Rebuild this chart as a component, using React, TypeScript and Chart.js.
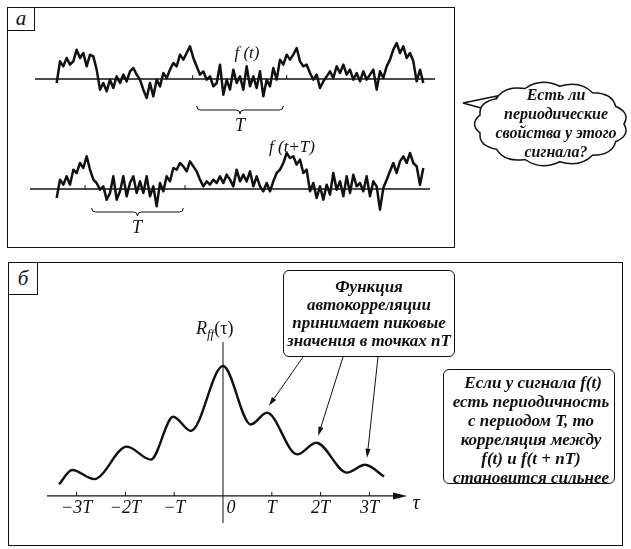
import React, { useEffect, useRef } from "react";
import { Chart, registerables } from "chart.js";
Chart.register(...registerables);

// ---------- data ----------
// panel a: f(t), samples equally spaced in time (sample index)
const topSignal = [
  -12, 53, 38, 63, 43, 53, 88, 63, 78, 38,
  73, 68, 28, -32, -12, -37, -2, -27, 8, -12,
  13, -7, 23, 33, 13, -2, -32, -57, -12, -52,
  -2, -22, 18, 3, 28, 48, 38, 73, 58, 78,
  98, 63, 38, 13, 23, -2, 8, -22, -12, 43,
  -47, -2, -32, 28, -12, 8, -32, 38, -22, 8,
  -27, 23, -52, -2, -22, 33, -2, 58, 43, 73,
  58, 73, 93, 53, 38, 43, 18, -2, 13, -27,
  -7, 8, 23, 3, 38, 18, 43, 13, 28, -2,
  18, -7, 23, -2, 13, 28, -32, 23, 3, 38,
  58, 88, 108, 78, 98, 63, 78, 53, -7, 28,
  -12,
];
// panel a: f(t+T)
const shiftedSignal = [
  -27, 28, 13, 38, 13, 58, 48, 78, 63, 98,
  58, 28, 18, -2, 8, -32, -12, 38, -32, -7,
  38, -22, 18, 38, -12, 23, -12, 38, -22, 8,
  -52, 18, -7, 38, 23, 63, 58, 78, 68, 53,
  83, 68, 53, 28, 8, 23, 13, 28, 18, 38,
  18, 43, 28, 8, 58, 23, 43, 23, 53, 8,
  38, 8, -7, 18, -7, 23, 48, 58, 78, 108,
  93, 98, 73, 88, 48, 58, -7, 18, -27, 8,
  -32, 13, -17, 48, -2, 23, -22, 38, -12, 43,
  8, 18, -7, 38, -22, 23, 8, -62, 3, 28,
  53, 78, 48, 83, 98, 78, 108, 78, 68, 13,
  63,
];
const topPeriodMarks = [40.8, 69];
const shiftedPeriodMarks = [8.5, 38.5];
const topBracket = [42, 68];
const shiftedBracket = [10.5, 38];

// panel б: autocorrelation R_ff(τ), τ in units of T
const lagT = [-3.36, -3.09, -2.64, -1.97, -1.48, -1.02, -0.66, 0, 0.57, 0.9, 1.52, 1.91, 2.54, 2.91, 3.3];
const autocorr = [0.09, 0.2, 0.13, 0.38, 0.28, 0.61, 0.5, 1.0, 0.55, 0.64, 0.32, 0.41, 0.18, 0.24, 0.15];
const tickMultiples = [-3, -2, -1, 0, 1, 2, 3];
const tickLabels = ["\u22123T", "\u22122T", "\u2212T", "0", "T", "2T", "3T"];
const peakIndices = [9, 11, 13]; // peaks at T, 2T, 3T

const FONT = '"Liberation Serif", "Times New Roman", serif';

type SigCfg = {
  values: number[];
  xMin: number; xMax: number; yMin: number; yMax: number;
  marks: number[]; bracket: number[]; bracketOffset: number;
};

function makeSignalChart(canvas: HTMLCanvasElement, cfg: SigCfg) {
  const baselinePlugin = {
    id: "baseline",
    beforeDatasetsDraw(chart: any) {
      const { ctx, chartArea } = chart;
      const xs = chart.scales.x, ys = chart.scales.y;
      const y0 = ys.getPixelForValue(0);
      ctx.save();
      ctx.strokeStyle = "#111";
      ctx.lineWidth = 1.3;
      ctx.beginPath();
      ctx.moveTo(chartArea.left, y0);
      ctx.lineTo(chartArea.right, y0);
      ctx.stroke();
      ctx.lineWidth = 1;
      cfg.marks.forEach((m) => {
        const px = xs.getPixelForValue(m);
        ctx.beginPath();
        ctx.moveTo(px, y0 - 4);
        ctx.lineTo(px, y0);
        ctx.stroke();
      });
      const bx1 = xs.getPixelForValue(cfg.bracket[0]);
      const bx2 = xs.getPixelForValue(cfg.bracket[1]);
      const by = y0 + cfg.bracketOffset;
      const bm = (bx1 + bx2) / 2;
      ctx.beginPath();
      ctx.moveTo(bx1, by - 4);
      ctx.quadraticCurveTo(bx1, by, bx1 + 4, by);
      ctx.lineTo(bm - 4, by);
      ctx.quadraticCurveTo(bm, by, bm, by + 4);
      ctx.quadraticCurveTo(bm, by, bm + 4, by);
      ctx.lineTo(bx2 - 4, by);
      ctx.quadraticCurveTo(bx2, by, bx2, by - 4);
      ctx.stroke();
      ctx.restore();
    },
  };
  return new Chart(canvas, {
    type: "line",
    data: {
      datasets: [
        {
          data: cfg.values.map((v, i) => ({ x: i, y: v })),
          borderColor: "#111",
          borderWidth: 2.5,
          borderJoinStyle: "round",
          pointRadius: 0,
          tension: 0,
          fill: false,
        },
      ],
    },
    options: {
      animation: false,
      responsive: false,
      maintainAspectRatio: false,
      events: [],
      layout: { padding: 0 },
      plugins: { legend: { display: false }, tooltip: { enabled: false } },
      scales: {
        x: { type: "linear", display: false, min: cfg.xMin, max: cfg.xMax },
        y: { display: false, min: cfg.yMin, max: cfg.yMax },
      },
    },
    plugins: [baselinePlugin],
  } as any);
}

// arrow start points on the bottom edge of the note box (canvas coordinates)
const ARROW_STARTS = [
  [256, 15],
  [296, 15],
  [331, 15],
];

function makeAutocorrChart(canvas: HTMLCanvasElement) {
  const axesPlugin = {
    id: "axes",
    beforeDatasetsDraw(chart: any) {
      const { ctx, chartArea: ca } = chart;
      const xs = chart.scales.x, ys = chart.scales.y;
      const y0 = ys.getPixelForValue(0);
      const x0 = xs.getPixelForValue(0);
      ctx.save();
      ctx.strokeStyle = "#111";
      ctx.fillStyle = "#111";
      ctx.lineWidth = 1.3;
      ctx.beginPath();
      ctx.moveTo(ca.left, y0);
      ctx.lineTo(ca.right - 8, y0);
      ctx.stroke();
      ctx.beginPath();
      ctx.moveTo(ca.right, y0);
      ctx.lineTo(ca.right - 14, y0 - 3.5);
      ctx.lineTo(ca.right - 14, y0 + 3.5);
      ctx.closePath();
      ctx.fill();
      ctx.lineWidth = 1;
      ctx.beginPath();
      ctx.moveTo(x0, ca.top);
      ctx.lineTo(x0, ca.bottom);
      ctx.stroke();
      ctx.font = `italic 18px ${FONT}`;
      ctx.textAlign = "center";
      ctx.textBaseline = "alphabetic";
      tickMultiples.forEach((m, i) => {
        const px = xs.getPixelForValue(m);
        if (m !== 0) {
          ctx.beginPath();
          ctx.moveTo(px, y0);
          ctx.lineTo(px, y0 - 4);
          ctx.stroke();
        }
        ctx.fillText(tickLabels[i], px + (m === 0 ? 8 : 0), y0 + 17);
      });
      ctx.restore();
    },
    afterDatasetsDraw(chart: any) {
      const { ctx } = chart;
      const xs = chart.scales.x, ys = chart.scales.y;
      ctx.save();
      ctx.strokeStyle = "#111";
      ctx.fillStyle = "#111";
      ctx.lineWidth = 1;
      peakIndices.forEach((pi, k) => {
        const tx = xs.getPixelForValue(lagT[pi]) + 2;
        const ty = ys.getPixelForValue(autocorr[pi]) - 7;
        const [sx, sy] = ARROW_STARTS[k];
        const ang = Math.atan2(ty - sy, tx - sx);
        const L = 9, W = 2.6;
        const bx = tx - L * Math.cos(ang), by = ty - L * Math.sin(ang);
        ctx.beginPath();
        ctx.moveTo(sx, sy);
        ctx.lineTo(bx, by);
        ctx.stroke();
        ctx.beginPath();
        ctx.moveTo(tx, ty);
        ctx.lineTo(bx + W * Math.sin(ang), by - W * Math.cos(ang));
        ctx.lineTo(bx - W * Math.sin(ang), by + W * Math.cos(ang));
        ctx.closePath();
        ctx.fill();
      });
      ctx.restore();
    },
  };
  return new Chart(canvas, {
    type: "line",
    data: {
      datasets: [
        {
          data: lagT.map((x, i) => ({ x, y: autocorr[i] })),
          borderColor: "#111",
          borderWidth: 2.4,
          pointRadius: 0,
          cubicInterpolationMode: "monotone",
          fill: false,
        },
      ],
    },
    options: {
      animation: false,
      responsive: false,
      maintainAspectRatio: false,
      events: [],
      layout: { padding: 0 },
      plugins: { legend: { display: false }, tooltip: { enabled: false } },
      scales: {
        x: { type: "linear", display: false, min: -3.607, max: 3.77 },
        y: { display: false, min: -0.208, max: 1.185 },
      },
    },
    plugins: [axesPlugin],
  } as any);
}

function cloudPath(cx: number, cy: number, rx: number, ry: number, n: number, bulge: number) {
  let d = "";
  for (let i = 0; i <= n; i++) {
    const a = (i / n) * Math.PI * 2;
    const x = cx + rx * Math.cos(a), y = cy + ry * Math.sin(a);
    if (i === 0) d += `M${x.toFixed(1)},${y.toFixed(1)}`;
    else {
      const am = ((i - 0.5) / n) * Math.PI * 2;
      const qx = cx + (rx + bulge) * Math.cos(am), qy = cy + (ry + bulge) * Math.sin(am);
      d += ` Q${qx.toFixed(1)},${qy.toFixed(1)} ${x.toFixed(1)},${y.toFixed(1)}`;
    }
  }
  return d + " Z";
}

const abs = (l: number, t: number, extra: any = {}) => ({ position: "absolute", left: l, top: t, ...extra } as React.CSSProperties);

export default function App() {
  const topRef = useRef<HTMLCanvasElement>(null);
  const botRef = useRef<HTMLCanvasElement>(null);
  const acRef = useRef<HTMLCanvasElement>(null);

  useEffect(() => {
    const charts: Chart[] = [];
    if (topRef.current)
      charts.push(
        makeSignalChart(topRef.current, {
          values: topSignal, xMin: -6.5, xMax: 113.5, yMin: -123, yMax: 132,
          marks: topPeriodMarks, bracket: topBracket, bracketOffset: 31,
        })
      );
    if (botRef.current)
      charts.push(
        makeSignalChart(botRef.current, {
          values: shiftedSignal, xMin: -8, xMax: 112, yMin: -99, yMax: 132,
          marks: shiftedPeriodMarks, bracket: shiftedBracket, bracketOffset: 23,
        })
      );
    if (acRef.current) charts.push(makeAutocorrChart(acRef.current));
    return () => charts.forEach((c) => c.destroy());
  }, []);

  const ital: React.CSSProperties = { fontFamily: FONT, fontStyle: "italic", color: "#111" };
  const boldItal: React.CSSProperties = { ...ital, fontWeight: "bold" };

  return (
    <div style={{ position: "absolute", left: 0, top: 0, width: 631, height: 549, background: "#fff", overflow: "hidden" }}>
      {/* panel borders */}
      <div style={abs(7, 7, { width: 448, height: 241, border: "1.5px solid #111", boxSizing: "border-box" })} />
      <div style={abs(7, 7, { width: 28, height: 24, border: "1.5px solid #111", boxSizing: "border-box" })} />
      <div style={abs(7, 7, { ...ital, width: 28, height: 24, lineHeight: "22px", fontSize: 21, textAlign: "center" })}>a</div>

      <div style={abs(8, 262, { width: 615, height: 284, border: "1.5px solid #111", boxSizing: "border-box" })} />
      <div style={abs(8, 262, { width: 30, height: 33, border: "1.5px solid #111", boxSizing: "border-box" })} />
      <div style={abs(8, 262, { ...ital, width: 30, height: 33, lineHeight: "32px", fontSize: 21, textAlign: "center" })}>б</div>

      {/* signals */}
      <canvas ref={topRef} width={400} height={85} style={abs(35, 35, { width: 400, height: 85 })} />
      <canvas ref={botRef} width={400} height={77} style={abs(30, 145, { width: 400, height: 77 })} />

      <div style={abs(222, 44, { ...ital, width: 50, textAlign: "center", fontSize: 17, lineHeight: "17px" })}>f (t)</div>
      <div style={abs(262, 138, { ...ital, width: 60, textAlign: "center", fontSize: 17, lineHeight: "17px" })}>f (t+T)</div>
      <div style={abs(225, 116, { ...ital, width: 30, textAlign: "center", fontSize: 18, lineHeight: "18px" })}>T</div>
      <div style={abs(122, 218, { ...ital, width: 30, textAlign: "center", fontSize: 18, lineHeight: "18px" })}>T</div>

      {/* speech cloud */}
      <svg width={631} height={549} style={abs(0, 0, { pointerEvents: "none" })}>
        <path d="M492,111 L463,103 L497,96 Z" fill="#fff" stroke="#111" strokeWidth={1.5} strokeLinejoin="miter" />
        <path d={cloudPath(551, 124, 73, 38, 13, 9)} fill="#fff" stroke="#111" strokeWidth={1.5} />
      </svg>
      <div style={abs(476, 85, { ...boldItal, width: 160, textAlign: "center", fontSize: 16, lineHeight: "19px" })}>
        Есть ли<br />периодические<br />свойства у этого<br />сигнала?
      </div>

      {/* autocorrelation */}
      <canvas ref={acRef} width={360} height={181} style={abs(47, 342, { width: 360, height: 181 })} />
      <div style={abs(196, 319, { ...ital, fontSize: 18, lineHeight: "18px", whiteSpace: "nowrap" })}>
        R<span style={{ fontSize: 13, position: "relative", top: 4 }}>ff</span>
        <span style={{ fontStyle: "normal" }}>(τ)</span>
      </div>
      <div style={abs(406, 492, { ...ital, width: 20, textAlign: "center", fontSize: 20, lineHeight: "20px" })}>τ</div>

      {/* note boxes */}
      <div style={abs(283, 270, { width: 172, height: 87, border: "1.5px solid #111", borderRadius: 6, boxSizing: "border-box" })} />
      <div style={abs(278, 278, { ...boldItal, width: 182, textAlign: "center", fontSize: 17, lineHeight: "18px", whiteSpace: "nowrap" })}>
        Функция<br />автокорреляции<br />принимает пиковые<br />значения в точках <i>n</i>T
      </div>

      <div style={abs(443, 369, { width: 172, height: 115, border: "1.5px solid #111", borderRadius: 6, boxSizing: "border-box" })} />
      <div style={abs(438, 373, { ...boldItal, width: 186, textAlign: "center", fontSize: 17, lineHeight: "19px", whiteSpace: "nowrap" })}>
        &nbsp;Если у сигнала f(t)<br />есть периодичность<br />с периодом T, то<br />корреляция между<br />f(t) и f(t + nT)<br />становится сильнее
      </div>
    </div>
  );
}
